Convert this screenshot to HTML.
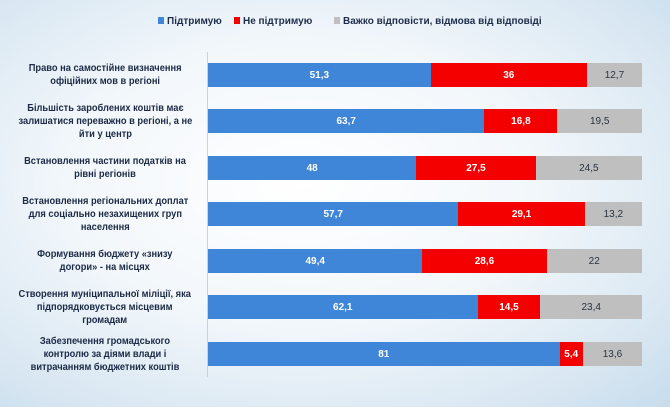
<!DOCTYPE html>
<html><head><meta charset="utf-8"><style>
body{margin:0;width:670px;height:407px;overflow:hidden;font-family:"Liberation Sans",sans-serif;
background:radial-gradient(ellipse at 45% 45%,#ffffff 0%,#f2f7fb 45%,#d9e7f2 80%,#c7dcec 100%);position:relative}
.leg{position:absolute;top:16px;font-size:10px;color:#1f2d4a;font-weight:bold;white-space:nowrap}
.leg i{display:inline-block;width:6px;height:7px;margin-right:3px}
.axis{position:absolute;left:207px;top:52px;width:1px;height:325px;background:#c8d2dc}
.row{position:absolute;left:208px;width:434px;height:24px;display:flex}
.row div{height:100%;display:flex;align-items:center;justify-content:center;font-size:10px;font-weight:bold;color:#fff}
.b{background:#3f86d8}.r{background:#f40000}.g{background:#bfbfbf;color:#2a3340!important;font-weight:normal!important}
.lab{position:absolute;left:8px;width:194px;text-align:center;font-size:10px;font-weight:bold;color:#1c2a45;line-height:13px;display:flex;align-items:center;justify-content:center;height:40px;white-space:nowrap}
.lab span{display:inline-block;transform:scaleX(0.93)}
</style></head><body>
<div class="leg" style="left:158px"><i style="background:#3f86d8"></i>Підтримую</div>
<div class="leg" style="left:234px"><i style="background:#f40000"></i>Не підтримую</div>
<div class="leg" style="left:334px"><i style="background:#bfbfbf"></i>Важко відповісти, відмова від відповіді</div>
<div class="axis"></div>

<div class="lab" style="top:55px"><span>Право на самостійне визначення<br>офіційних мов в регіоні</span></div>
<div class="row" style="top:63px"><div class="b" style="width:51.3%">51,3</div><div class="r" style="width:36%">36</div><div class="g" style="width:12.7%">12,7</div></div>

<div class="lab" style="top:101px"><span>Більшість зароблених коштів має<br>залишатися переважно в регіоні, а не<br>йти у центр</span></div>
<div class="row" style="top:109px"><div class="b" style="width:63.7%">63,7</div><div class="r" style="width:16.8%">16,8</div><div class="g" style="width:19.5%">19,5</div></div>

<div class="lab" style="top:148px"><span>Встановлення частини податків на<br>рівні регіонів</span></div>
<div class="row" style="top:156px"><div class="b" style="width:48%">48</div><div class="r" style="width:27.5%">27,5</div><div class="g" style="width:24.5%">24,5</div></div>

<div class="lab" style="top:194px"><span>Встановлення регіональних доплат<br>для соціально незахищених груп<br>населення</span></div>
<div class="row" style="top:202px"><div class="b" style="width:57.7%">57,7</div><div class="r" style="width:29.1%">29,1</div><div class="g" style="width:13.2%">13,2</div></div>

<div class="lab" style="top:241px"><span>Формування бюджету «знизу<br>догори» - на місцях</span></div>
<div class="row" style="top:249px"><div class="b" style="width:49.4%">49,4</div><div class="r" style="width:28.6%">28,6</div><div class="g" style="width:22%">22</div></div>

<div class="lab" style="top:287px"><span>Створення муніципальної міліції, яка<br>підпорядковується місцевим<br>громадам</span></div>
<div class="row" style="top:295px"><div class="b" style="width:62.1%">62,1</div><div class="r" style="width:14.5%">14,5</div><div class="g" style="width:23.4%">23,4</div></div>

<div class="lab" style="top:334px"><span>Забезпечення громадського<br>контролю за діями влади і<br>витрачанням бюджетних коштів</span></div>
<div class="row" style="top:342px"><div class="b" style="width:81%">81</div><div class="r" style="width:5.4%">5,4</div><div class="g" style="width:13.6%">13,6</div></div>
</body></html>
